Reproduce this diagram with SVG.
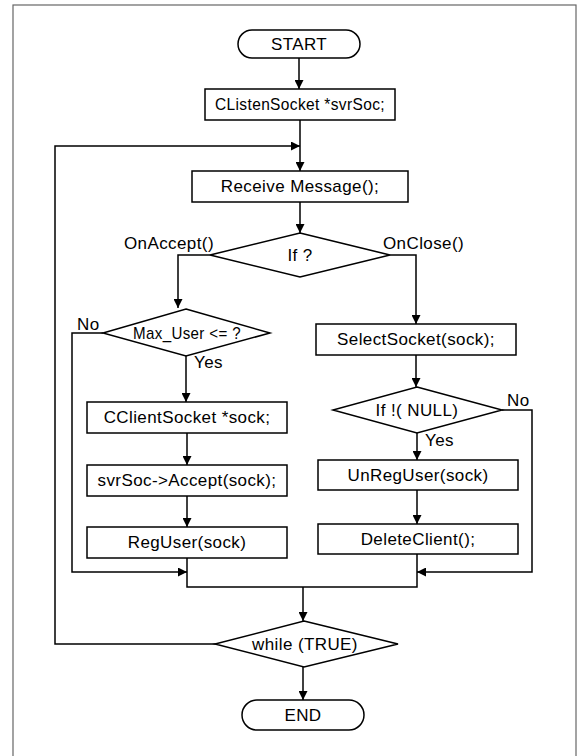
<svg xmlns="http://www.w3.org/2000/svg" width="582" height="756" viewBox="0 0 582 756">
<defs>
<marker id="ah" viewBox="0 0 10 10" refX="10" refY="5" markerWidth="10" markerHeight="9" markerUnits="userSpaceOnUse" orient="auto">
<path d="M0,0 L10,5 L0,10 z" fill="#000"/>
</marker>
<style>
.shape{fill:#fff;stroke:#000;stroke-width:1.5}
.t{font-family:"Liberation Sans",Arial,sans-serif;font-size:17px;letter-spacing:0.4px;fill:#000;text-anchor:middle}
.l{font-family:"Liberation Sans",Arial,sans-serif;font-size:17px;letter-spacing:0.4px;fill:#000}
.c{fill:none;stroke:#000;stroke-width:1.5}
.a{fill:none;stroke:#000;stroke-width:1.5;marker-end:url(#ah)}
</style>
</defs>
<rect x="13" y="5" width="563" height="770" fill="#fff" stroke="#666" stroke-width="1.2"/>
<g id="connectors">
<path class="a" d="M299,58 V89"/>
<path class="a" d="M300,120 V171"/>
<path class="a" d="M303,644 H55 V146 H300"/>
<path class="a" d="M300,202 V233"/>
<path class="a" d="M210,255 H178 V308"/>
<path class="a" d="M103,333 H72 V572 H187"/>
<path class="a" d="M186,356 V402"/>
<path class="a" d="M187,433 V465"/>
<path class="a" d="M187,496 V527"/>
<path class="c" d="M187,558 V587 H417 V554"/>
<path class="a" d="M390,255 H416 V324"/>
<path class="a" d="M416,355 V387"/>
<path class="a" d="M502,410 H532 V572 H417"/>
<path class="a" d="M417,433 V460"/>
<path class="a" d="M417,490 V524"/>
<path class="a" d="M303,587 V621"/>
<path class="a" d="M303,667 V700"/>
</g>
<g id="start"><rect class="shape" x="238" y="30" width="122" height="28" rx="14"/><text class="t" x="299" y="50">START</text></g>
<g id="clisten"><rect class="shape" x="205" y="89" width="190" height="31"/><text class="t" x="300" y="110" textLength="170" lengthAdjust="spacingAndGlyphs">CListenSocket *svrSoc;</text></g>
<g id="receive"><rect class="shape" x="192" y="171" width="216" height="31"/><text class="t" x="300" y="192">Receive Message();</text></g>
<g id="if"><polygon class="shape" points="300,233 390,255 300,277 210,255"/><text class="t" x="300" y="261">If  ?</text></g>
<g id="lbl-onaccept"><text class="l" x="124" y="249">OnAccept()</text></g>
<g id="lbl-onclose"><text class="l" x="383" y="249">OnClose()</text></g>
<g id="maxuser"><polygon class="shape" points="186,309 270,333 186,356 103,333"/><text class="t" x="187" y="339" textLength="108" lengthAdjust="spacingAndGlyphs">Max_User &lt;= ?</text></g>
<g id="lbl-no1"><text class="l" x="77" y="330">No</text></g>
<g id="lbl-yes1"><text class="l" x="194" y="368">Yes</text></g>
<g id="cclient"><rect class="shape" x="87" y="402" width="200" height="31"/><text class="t" x="187" y="423">CClientSocket *sock;</text></g>
<g id="accept"><rect class="shape" x="87" y="465" width="200" height="31"/><text class="t" x="187" y="486">svrSoc-&gt;Accept(sock);</text></g>
<g id="reguser"><rect class="shape" x="87" y="527" width="200" height="31"/><text class="t" x="187" y="548">RegUser(sock)</text></g>
<g id="select"><rect class="shape" x="316" y="324" width="200" height="31"/><text class="t" x="416" y="345">SelectSocket(sock);</text></g>
<g id="ifnull"><polygon class="shape" points="417,387 502,410 417,433 333,410"/><text class="t" x="417" y="416">If !( NULL)</text></g>
<g id="lbl-no2"><text class="l" x="507" y="406">No</text></g>
<g id="lbl-yes2"><text class="l" x="425" y="446">Yes</text></g>
<g id="unreg"><rect class="shape" x="318" y="460" width="200" height="30"/><text class="t" x="418" y="481">UnRegUser(sock)</text></g>
<g id="delete"><rect class="shape" x="318" y="524" width="200" height="30"/><text class="t" x="418" y="545">DeleteClient();</text></g>
<g id="while"><polygon class="shape" points="304,621 398,644 304,667 215,644"/><text class="t" x="305" y="650">while (TRUE)</text></g>
<g id="end"><rect class="shape" x="242" y="700" width="122" height="30" rx="15"/><text class="t" x="303" y="721">END</text></g>
</svg>
